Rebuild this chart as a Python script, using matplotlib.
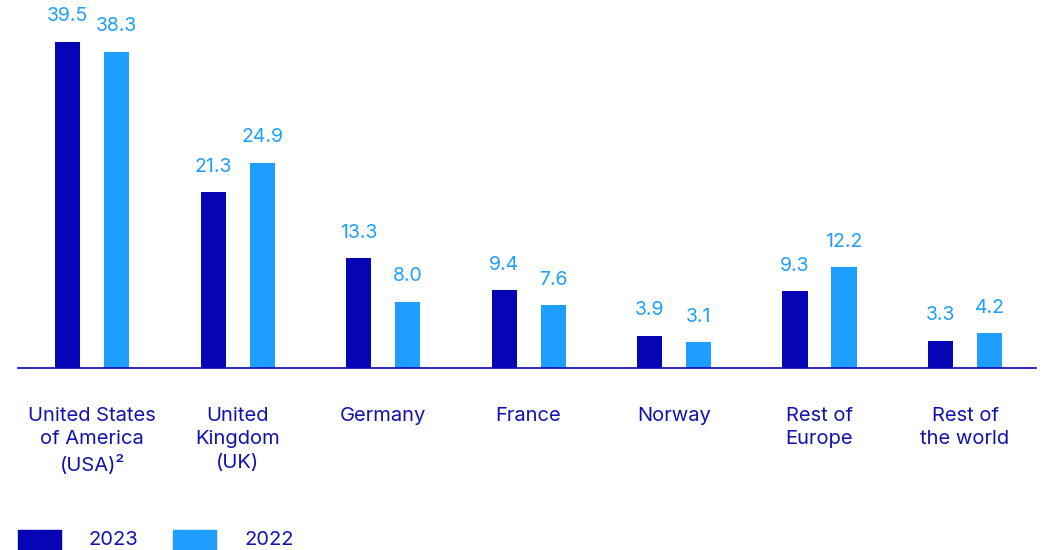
import matplotlib
matplotlib.use("Agg")
import matplotlib.pyplot as plt
from matplotlib.patches import Rectangle

categories = ["United States\nof America\n(USA)²", "United\nKingdom\n(UK)", "Germany",
              "France", "Norway", "Rest of\nEurope", "Rest of\nthe world"]
values_2023 = [39.5, 21.3, 13.3, 9.4, 3.9, 9.3, 3.3]
values_2022 = [38.3, 24.9, 8.0, 7.6, 3.1, 12.2, 4.2]
series_labels = ["2023", "2022"]

DARK = "#0505B5"
LIGHT = "#1E9FFF"
TEXT = "#1212B0"

plt.rcParams['font.family'] = ['Inter', 'DejaVu Sans']

W, H = 1044, 550
fig = plt.figure(figsize=(W / 100, H / 100), dpi=100)
ax = fig.add_axes([18 / W, (H - 368) / H, 1018 / W, 330 / H])

x = list(range(len(categories)))
off = 0.1684
bw = 0.172
b1 = ax.bar([i - off for i in x], values_2023, width=bw, color=DARK)
b2 = ax.bar([i + off for i in x], values_2022, width=bw, color=LIGHT)

for bars, vals in ((b1, values_2023), (b2, values_2022)):
    for r, v in zip(bars, vals):
        ax.annotate(f"{v:.1f}", (r.get_x() + r.get_width() / 2, v),
                    xytext=(0, 12), textcoords="offset points",
                    ha="center", va="bottom", fontsize=14, color=LIGHT,
                    annotation_clip=False)

ax.set_xlim(-0.509, 6.488)
ax.set_ylim(0, 40)
for s in ("top", "right", "left"):
    ax.spines[s].set_visible(False)
ax.spines["bottom"].set_color(DARK)
ax.spines["bottom"].set_linewidth(1.2)
ax.set_yticks([])
ax.set_xticks(x)
ax.set_xticklabels(categories, fontsize=14.5, color=TEXT, linespacing=1.4, va="top")
ax.tick_params(axis="x", length=0, pad=28)

# legend
for xl, col, lab, xt in ((18, DARK, series_labels[0], 88), (173, LIGHT, series_labels[1], 244)):
    fig.patches.append(Rectangle((xl / W, -0.02), 43 / W, 20 / H + 0.02,
                                 transform=fig.transFigure, color=col, zorder=3))
    fig.text(xt / W, 10 / H, lab, fontsize=14.5, color=TEXT, ha="left", va="center")

fig.savefig("out.png", dpi=100)
